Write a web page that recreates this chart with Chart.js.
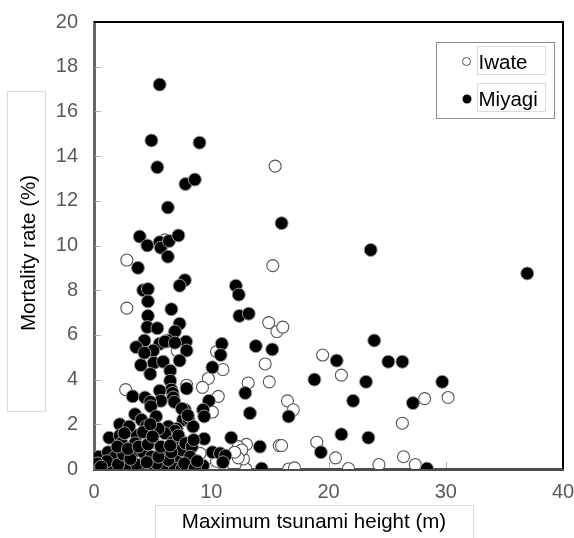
<!DOCTYPE html>
<html>
<head>
<meta charset="utf-8">
<script src="https://cdn.jsdelivr.net/npm/chart.js@4.4.1/dist/chart.umd.min.js"></script>
<style>
html,body{margin:0;padding:0;background:#fff;}
#wrap{width:574px;height:538px;position:relative;}
</style>
</head>
<body>
<div id="wrap"><canvas id="c" width="574" height="538"></canvas></div>
<script>
// ---- data ----
const seriesNames = ["Iwate", "Miyagi"];
const xTitle = "Maximum tsunami height (m)";
const yTitle = "Mortality rate (%)";
const xTicks = [0, 10, 20, 30, 40];
const yTicks = [0, 2, 4, 6, 8, 10, 12, 14, 16, 18, 20];

const iwateX = [15.45,2.8,15.25,6.05,2.8,14.9,15.6,16.1,7.1,10.45,14.6,11.0,9.75,9.25,13.15,14.95,2.7,7.9,10.6,10.1,13.0,15.8,10.95,12.95,19.5,21.1,28.2,30.2,16.5,17.0,26.3,16.0,19.0,20.6,26.4,16.6,17.1,21.7,24.3,27.4,12.3,12.45,12.75,9.6,12.6,12.3,12.0,10.15,9.05,10.45,7.35,4.8,6.35,5.75,6.5,0.1,0.5,1.6,3.5,4.5,6.2,0.3,0.8,1.2,2.0,2.5,3.2,3.9,4.3,5.2,5.8,6.7,7.3,8.2,9.0];
const iwateY = [13.55,9.35,9.1,10.25,7.2,6.55,6.15,6.35,5.3,5.25,4.7,4.45,4.05,3.65,3.85,3.9,3.55,3.75,3.25,2.55,1.1,1.05,0.0,0.0,5.1,4.2,3.15,3.2,3.05,2.65,2.05,1.05,1.2,0.5,0.55,0.0,0.05,0.02,0.2,0.2,1.0,0.65,0.45,0.0,0.85,0.5,0.75,0.0,0.7,0.35,1.3,1.6,1.6,1.2,0.95,0.1,0.0,0.0,0.0,0.05,5.7,0.2,0.1,0.3,0.05,0.4,0.2,0.5,0.9,0.3,0.1,0.3,0.6,0.2,0.1];

const miyagiX = [5.6,4.9,9.0,5.4,7.8,8.6,6.3,3.9,4.55,5.6,5.7,6.4,7.2,6.3,3.75,16.0,23.6,36.95,7.75,7.3,4.2,4.6,4.6,6.6,12.1,12.35,12.4,13.2,4.6,4.55,5.4,7.3,6.9,4.3,6.3,5.6,3.6,7.85,10.9,13.8,15.2,23.9,5.05,7.9,10.8,20.7,25.1,26.3,4.0,5.1,5.9,7.3,4.8,6.5,10.1,18.8,23.2,29.7,6.5,6.6,3.3,4.35,5.6,6.7,6.75,6.85,5.7,4.8,4.85,7.9,12.9,9.8,22.1,27.2,13.3,3.5,5.3,7.75,9.3,9.4,16.6,4.05,2.2,7.6,8.05,8.45,4.45,6.2,7.05,1.3,2.2,9.4,11.7,21.1,23.4,14.15,10.1,10.75,11.2,11.0,9.3,14.3,19.35,28.4,6.35,6.9,2.35,3.65,3.5,4.2,5.05,6.05,6.7,7.2,0.4,1.2,1.8,2.8,3.35,4.2,4.9,5.9,6.9,7.5,0.1,0.8,1.5,2.8,3.9,5.05,6.05,6.9,7.5,1.1,2.05,3.65,5.35,6.35,7.5,8.0,7.8,8.35,8.2,8.05,4.3,6.05,6.9,0.3,0.6,2.5,3.1,4.5,5.5,6.6,7.7,8.6,8.8,2.0,2.9,3.8,4.6,5.7,6.5,8.5,5.5,4.8,3.0,2.6,5.0];
const miyagiY = [17.2,14.7,14.6,13.5,12.75,12.95,11.7,10.4,10.0,10.15,9.9,10.2,10.45,9.5,9.0,11.0,9.8,8.75,8.45,8.2,8.0,8.05,7.5,7.15,8.2,7.8,6.85,6.95,6.85,6.35,6.3,6.5,6.15,5.75,5.75,5.6,5.45,5.7,5.6,5.5,5.35,5.75,5.3,5.3,5.1,4.85,4.8,4.8,4.65,4.75,4.8,4.85,4.25,4.4,4.55,4.0,3.9,3.9,3.95,3.55,3.25,3.2,3.5,3.4,3.2,3.0,3.05,3.0,2.8,3.6,3.4,3.05,3.05,2.95,2.5,2.45,2.35,2.65,2.65,2.35,2.35,2.2,2.0,2.2,2.25,1.9,1.9,1.8,1.8,1.4,1.5,1.35,1.4,1.55,1.4,1.0,0.75,0.7,0.6,0.3,0.15,0.02,0.75,0.02,1.9,1.7,1.15,1.5,1.15,1.65,1.2,1.6,1.2,1.5,0.55,0.75,0.55,0.4,0.75,0.75,0.55,0.75,0.5,0.85,0.05,0.02,0.02,0.02,0.05,0.02,0.1,0.02,0.02,0.35,0.2,0.2,0.25,0.4,2.7,2.4,1.15,1.0,0.55,0.02,5.2,5.7,5.65,0.25,0.1,0.65,0.45,0.3,0.55,0.75,0.25,0.05,0.35,1.0,0.9,1.0,1.1,1.0,1.05,1.3,1.8,2.0,1.9,1.6,1.45];

const toPoints = (xs, ys) => xs.map((x, i) => ({x: x, y: ys[i]}));

const FONT = "'Liberation Sans', Arial, sans-serif";

const decor = {
  id: 'decor',
  afterDraw(chart) {
    const ctx = chart.ctx;
    const a = chart.chartArea;
    const xs = chart.scales.x, ys = chart.scales.y;
    ctx.save();
    // inner tick marks
    ctx.strokeStyle = '#b0b0b0';
    ctx.lineWidth = 1;
    yTicks.forEach(v => {
      if (v === 0 || v === 20) return;
      const p = Math.round(ys.getPixelForValue(v)) + 0.5;
      ctx.beginPath(); ctx.moveTo(a.left + 1, p); ctx.lineTo(a.left + 7, p); ctx.stroke();
    });
    xTicks.forEach(v => {
      if (v === 0 || v === 40) return;
      const p = Math.round(xs.getPixelForValue(v)) + 0.5;
      ctx.beginPath(); ctx.moveTo(p, a.bottom - 1); ctx.lineTo(p, a.bottom - 7); ctx.stroke();
    });
    // top and right frame
    ctx.strokeStyle = '#000';
    ctx.lineWidth = 2;
    ctx.beginPath();
    ctx.moveTo(a.left, a.top); ctx.lineTo(a.right, a.top); ctx.lineTo(a.right, a.bottom);
    ctx.stroke();
    // axis title boxes
    ctx.strokeStyle = '#d9d9d9';
    ctx.lineWidth = 1;
    ctx.strokeRect(7.5, 91.5, 38, 320);
    ctx.strokeRect(155.5, 505.5, 318, 40);
    ctx.fillStyle = '#000';
    ctx.font = '20.5px ' + FONT;
    ctx.textAlign = 'center';
    ctx.textBaseline = 'alphabetic';
    ctx.fillText(xTitle, 314, 528);
    ctx.save();
    ctx.translate(35, 253);
    ctx.rotate(-Math.PI / 2);
    ctx.fillText(yTitle, 0, 0);
    ctx.restore();
    // legend
    ctx.fillStyle = '#fff';
    ctx.fillRect(436.5, 42.5, 118, 76);
    ctx.strokeStyle = '#8c8c8c';
    ctx.strokeRect(436.5, 42.5, 118, 76);
    ctx.strokeStyle = '#dcdcdc';
    ctx.strokeRect(477.5, 46.5, 68, 28);
    ctx.strokeRect(477.5, 83.5, 68, 28);
    ctx.beginPath(); ctx.arc(466.5, 61.5, 4, 0, Math.PI * 2);
    ctx.fillStyle = '#fff'; ctx.fill();
    ctx.strokeStyle = '#555'; ctx.lineWidth = 1; ctx.stroke();
    ctx.beginPath(); ctx.arc(467, 99, 4.5, 0, Math.PI * 2);
    ctx.fillStyle = '#000'; ctx.fill();
    ctx.fillStyle = '#000';
    ctx.textAlign = 'left';
    ctx.fillText(seriesNames[0], 478.5, 69);
    ctx.fillText(seriesNames[1], 478.5, 106);
    ctx.restore();
  }
};

new Chart(document.getElementById('c'), {
  type: 'scatter',
  data: {
    datasets: [
      { label: seriesNames[0], data: toPoints(iwateX, iwateY), order: 2,
        pointRadius: 6, pointBorderWidth: 1.1, borderColor: '#555', backgroundColor: '#fff' },
      { label: seriesNames[1], data: toPoints(miyagiX, miyagiY), order: 1,
        pointRadius: 6.5, pointBorderWidth: 1, borderColor: '#9a9a9a', backgroundColor: '#000' }
    ]
  },
  options: {
    responsive: false,
    animation: false,
    events: [],
    layout: { padding: { top: 22, right: 11, left: 0, bottom: 0 } },
    plugins: { legend: { display: false }, tooltip: { enabled: false } },
    scales: {
      x: {
        type: 'linear', min: 0, max: 40,
        afterFit(s) { s.height = 69; s.paddingLeft = 0; s.paddingRight = 0; },
        afterBuildTicks(s) { s.ticks = xTicks.map(v => ({value: v})); },
        grid: { display: false, drawTicks: false },
        border: { display: true, color: '#4d4d4d', width: 3 },
        ticks: { color: '#595959', font: { family: FONT, size: 20 }, padding: 11, maxRotation: 0 }
      },
      y: {
        type: 'linear', min: 0, max: 20,
        afterFit(s) { s.width = 94; s.paddingTop = 0; s.paddingBottom = 0; },
        afterBuildTicks(s) { s.ticks = yTicks.map(v => ({value: v})); },
        grid: { display: false, drawTicks: false },
        border: { display: true, color: '#666', width: 3 },
        ticks: { color: '#595959', font: { family: FONT, size: 20 }, padding: 16 }
      }
    }
  },
  plugins: [decor]
});
</script>
</body>
</html>
